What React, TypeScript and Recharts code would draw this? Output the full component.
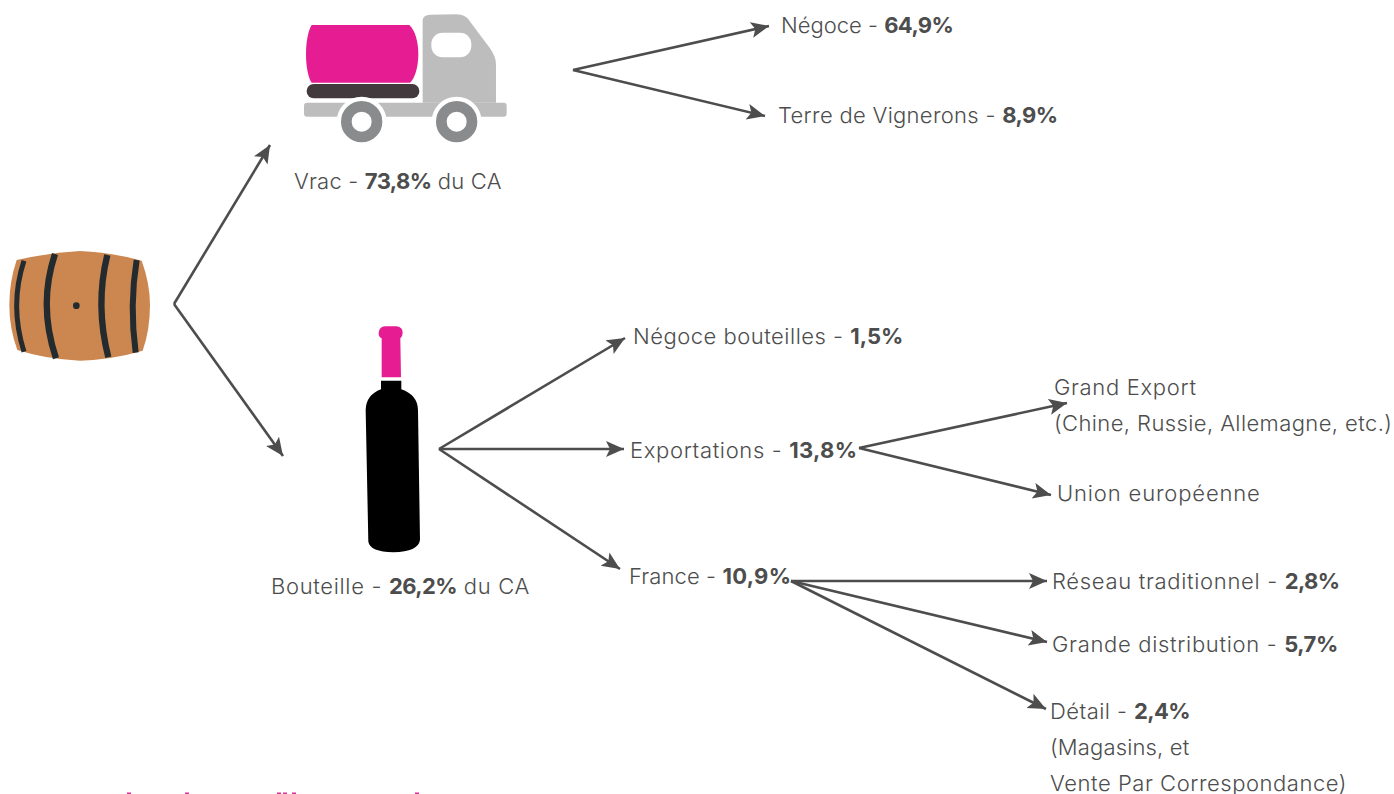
import { ComposedChart, Line, Scatter, XAxis, YAxis } from "recharts"

// labels and shares of turnover, in reading order
const categories = [
  "Vrac",
  "Bouteille",
  "Négoce",
  "Terre de Vignerons",
  "Négoce bouteilles",
  "Exportations",
  "France",
  "Grand Export",
  "Union européenne",
  "Réseau traditionnel",
  "Grande distribution",
  "Détail",
]
const shares = [73.8, 26.2, 64.9, 8.9, 1.5, 13.8, 10.9, null, null, 2.8, 5.7, 2.4]
const suffixes = [" du CA", " du CA", "", "", "", "", "", "", "", "", "", ""]
const notes = ["(Chine, Russie, Allemagne, etc.)", "(Magasins, et", "Vente Par Correspondance)"]

// diagram layout, in picture units
const labelAt = [
  [294, 189], [271, 594], [781, 33], [778, 123], [633, 344], [630, 458],
  [629, 584], [1054, 395], [1057, 501], [1052, 589], [1052, 652], [1050, 719],
]
// Inter runs narrower than the original face, so each label gets a little tracking
const labelTracking = [0.2, 0.67, 0, 0.3, 0.5, 0.65, 0.1, 0.67, 0.85, 0.68, 0.68, 0.45]
const shareTracking = [-0.6, -0.6, -0.6, -0.6, 0, 0.3, 0.3, 0, 0, -0.6, -0.5, -0.6]
const noteAt = [[1054, 431], [1050, 755], [1050, 791]]
const noteTracking = [0.4, 0.15, 0.54]
const arrows = [
  [174, 304, 270, 145], [174, 304, 283, 456],
  [573, 70, 769, 26], [573, 70, 765, 116],
  [439, 449, 625, 338], [439, 449, 624, 449], [439, 449, 620, 569],
  [859, 448, 1067, 403], [859, 448, 1051, 495],
  [791, 581, 1047, 581], [791, 581, 1047, 642], [791, 581, 1046, 709],
]
const cutOffMarks = [[129, 793], [187, 793], [279, 793], [285, 793], [294, 793], [417, 793]]

const INK = "#4d4d4d"
const PINK = "#e61c92"
const FONT = "Inter, sans-serif"
const FONT_SIZE = 22

const labelRows = categories.map((name, i) => ({
  x: labelAt[i][0], y: labelAt[i][1], name, share: shares[i], suffix: suffixes[i],
  tracking: labelTracking[i], shareSpacing: shareTracking[i],
}))
const noteRows = notes.map((name, i) => ({
  x: noteAt[i][0], y: noteAt[i][1], name, share: null, suffix: "", tracking: noteTracking[i], shareSpacing: 0,
}))
const arrowRows = arrows.map(([x1, y1, x2, y2]) => [{ x: x1, y: y1 }, { x: x2, y: y2 }])
const markRows = cutOffMarks.map(([x, y]) => ({ x, y }))

function LabelShape(props: any) {
  const { cx, cy, payload } = props
  return (
    <text x={cx} y={cy} fill={INK} fontFamily={FONT} fontSize={FONT_SIZE} fontWeight={300} letterSpacing={payload.tracking}>
      {payload.name}
      {payload.share !== null && " - "}
      {payload.share !== null && (
        <tspan fontWeight={700} letterSpacing={payload.shareSpacing}>{payload.share.toFixed(1).replace(".", ",")}%</tspan>
      )}
      {payload.suffix}
    </text>
  )
}

// icons are drawn in their own units, a third of a pixel each
function TruckIcon(props: any) {
  return (
    <g transform={`translate(${props.cx} ${props.cy}) scale(0.3333)`}>
      <path d="M398 60 Q400 45 420 44 L500 43 Q525 45 535 58 L600 145 Q618 170 618 195 L618 308 L398 308Z" fill="#bcbdbc" />
      <rect x={42} y={308} width={608} height={42} rx={9} fill="#bcbdbc" />
      <rect x={424} y={98} width={120} height={74} rx={34} fill="#fff" />
      <path d="M65 75 L358 75 C375 90 385 125 385 162 C385 200 375 235 360 248 L65 248 C55 235 48 200 48 162 C48 125 55 90 65 75Z" fill={PINK} />
      <rect x={50} y={252} width={338} height={43} rx={21} fill="#423a3d" />
      {[215, 500].map((wx) => (
        <g key={wx}>
          <circle cx={wx} cy={365} r={75} fill="#fff" />
          <circle cx={wx} cy={365} r={46} fill="none" stroke="#8a8b8d" strokeWidth={32} />
        </g>
      ))}
    </g>
  )
}

function BarrelIcon(props: any) {
  return (
    <g transform={`translate(${props.cx} ${props.cy}) scale(0.3333)`}>
      <path d="M50 60 Q150 38 240 33 Q340 38 425 62 Q450 130 450 195 Q450 270 428 332 Q340 358 240 362 Q140 358 52 330 Q28 265 28 195 Q28 125 50 60Z" fill="#cb874f" />
      <g fill="none" stroke="#232b2e" strokeLinecap="butt">
        <path d="M72 62 Q28 195 72 335" strokeWidth={15} />
        <path d="M165 42 Q114 195 168 355" strokeWidth={19} />
        <path d="M322 45 Q285 195 325 352" strokeWidth={19} />
        <path d="M410 60 Q388 195 407 338" strokeWidth={18} />
      </g>
      <circle cx={229} cy={197} r={10} fill="#232b2e" />
    </g>
  )
}

function BottleIcon(props: any) {
  return (
    <g transform={`translate(${props.cx} ${props.cy}) scale(0.3333)`}>
      <path d="M95 55 Q85 50 86 38 Q88 20 105 19 L140 19 Q158 22 158 38 Q158 50 151 55 L153 172 L95 172Z" fill={PINK} />
      <path d="M93 182 L154 182 L154 208 Q203 225 204 270 L210 660 Q205 695 130 697 Q60 695 55 665 L47 270 Q48 225 93 208Z" fill="#000" />
    </g>
  )
}

function MarkShape(props: any) {
  return <rect x={props.cx - 2} y={props.cy - 0.5} width={4} height={1.5} fill="#d6338f" />
}

export default function App() {
  return (
    <div style={{ position: "absolute", left: 0, top: 0, width: 1394, height: 794, overflow: "hidden", background: "#fff" }}>
      <ComposedChart width={1394} height={794} margin={{ top: 0, right: 0, bottom: 0, left: 0 }}>
        <defs>
          <marker id="arrowHead" markerUnits="userSpaceOnUse" markerWidth={22} markerHeight={18} refX={18} refY={8} orient="auto">
            <path d="M0 0 L18 8 L0 16 L4 8Z" fill={INK} />
          </marker>
        </defs>
        <XAxis type="number" dataKey="x" domain={[0, 1394]} hide />
        <YAxis type="number" dataKey="y" domain={[0, 794]} reversed hide />
        {arrowRows.map((row, i) => (
          <Line
            key={i}
            data={row}
            dataKey="y"
            stroke={INK}
            strokeWidth={2.6}
            dot={false}
            markerEnd="url(#arrowHead)"
            isAnimationActive={false}
          />
        ))}
        <Scatter data={[{ x: 290, y: 0 }]} shape={TruckIcon} isAnimationActive={false} />
        <Scatter data={[{ x: 0, y: 240 }]} shape={BarrelIcon} isAnimationActive={false} />
        <Scatter data={[{ x: 350, y: 320 }]} shape={BottleIcon} isAnimationActive={false} />
        <Scatter data={labelRows} shape={LabelShape} isAnimationActive={false} />
        <Scatter data={noteRows} shape={LabelShape} isAnimationActive={false} />
        <Scatter data={markRows} shape={MarkShape} isAnimationActive={false} />
      </ComposedChart>
    </div>
  )
}
